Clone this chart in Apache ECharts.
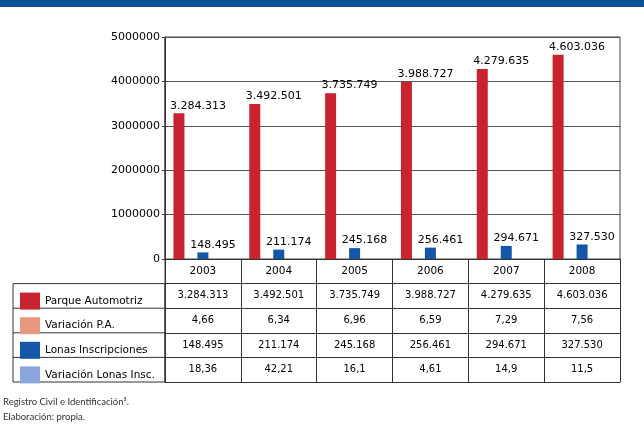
<!DOCTYPE html>
<html><head><meta charset="utf-8">
<script src="https://cdn.jsdelivr.net/npm/echarts@6/dist/echarts.min.js"></script>
<style>html,body{margin:0;padding:0;background:#fff}#c{width:644px;height:435px}</style>
</head><body><div id="c"></div>
<script>
var years = ['2003','2004','2005','2006','2007','2008'];
var parque = [3284313, 3492501, 3735749, 3988727, 4279635, 4603036];
var varPA = [4.66, 6.34, 6.96, 6.59, 7.29, 7.56];
var lonas = [148495, 211174, 245168, 256461, 294671, 327530];
var varLonas = [18.36, 42.21, 16.1, 4.61, 14.9, 11.5];
var seriesNames = ['Parque Automotriz', 'Variación P.A.', 'Lonas Inscripciones', 'Variación Lonas Insc.'];
var yTicks = { min: 0, max: 5000000, interval: 1000000 };
var sourceLines = ['Registro Civil e Identificación⁵.', 'Elaboración: propia.'];

var FONT = 'DejaVu Sans';
function dots(v){ return String(v).replace(/\B(?=(\d{3})+(?!\d))/g, '.'); }
function comma(v){ return String(v).replace('.', ','); }
var rows = [parque.map(dots), varPA.map(comma), lonas.map(dots), varLonas.map(comma)];

var gridTop = 37, zeroY = 259, gridLeft = 165, gridRight = 620, rowH = 24.6, legendX = 13;
var colors = ['#c8232f', '#e9967f', '#1457a8', '#8aa6dc'];

var xAxes = [{
  type: 'category', data: years, position: 'bottom', gridIndex: 0,
  axisLine: { show: true, lineStyle: { color: '#333', width: 1 } },
  axisTick: { show: true, inside: false, length: rowH * 5, lineStyle: { color: '#333' } },
  axisLabel: { show: true, margin: rowH / 2, verticalAlign: 'middle', fontFamily: FONT, fontSize: 10.5, color: '#000' }
}];
for (var k = 1; k <= 5; k++) {
  (function (k) {
    xAxes.push({
      type: 'category', data: years, position: 'bottom', gridIndex: 0, offset: rowH * k,
      axisLine: { show: true, lineStyle: { color: '#333', width: 1 } },
      axisTick: { show: false },
      axisLabel: {
        show: k <= 4, margin: rowH / 2, verticalAlign: 'middle', fontFamily: FONT, fontSize: 10, color: '#000',
        formatter: function (v, i) { return k <= 4 ? rows[k - 1][i] : ''; }
      }
    });
  })(k);
}

var graphics = [
  { type: 'rect', shape: { x: 0, y: 0, width: 644, height: 7 }, style: { fill: '#0b5394' } },
  { type: 'rect', shape: { x: legendX, y: zeroY + rowH, width: gridLeft - legendX, height: rowH * 4 }, style: { fill: 'none', stroke: '#333', lineWidth: 1 } },
  { type: 'line', shape: { x1: gridLeft, y1: gridTop, x2: gridLeft, y2: zeroY + rowH * 5 }, style: { stroke: '#333', lineWidth: 1 } }
];
for (var r = 2; r <= 4; r++) {
  graphics.push({ type: 'line', shape: { x1: legendX, y1: zeroY + rowH * r, x2: gridLeft, y2: zeroY + rowH * r }, style: { stroke: '#333', lineWidth: 1 } });
}
sourceLines.forEach(function (t, i) {
  graphics.push({ type: 'text', left: 3, top: 397 + i * 15, style: { text: t, font: '9.5px Lato', fill: '#333' } });
});

var chart = echarts.init(document.getElementById('c'), null, { renderer: 'canvas' });
chart.setOption({
  animation: false,
  backgroundColor: '#fff',
  grid: { left: gridLeft, right: 644 - gridRight, top: gridTop, bottom: 435 - zeroY, show: true, borderColor: '#444', borderWidth: 1 },
  legend: {
    data: seriesNames, orient: 'vertical', left: 15, top: zeroY + rowH + 4,
    itemWidth: 20, itemHeight: 17, itemGap: rowH - 17, icon: 'rect',
    textStyle: { fontFamily: FONT, fontSize: 10.5, color: '#000' }
  },
  xAxis: xAxes,
  yAxis: {
    type: 'value', min: yTicks.min, max: yTicks.max, interval: yTicks.interval,
    axisLine: { show: true, lineStyle: { color: '#333' } },
    axisTick: { show: true, length: 3, lineStyle: { color: '#333' } },
    axisLabel: { fontFamily: FONT, fontSize: 11, color: '#000', margin: 5, formatter: function (v) { return String(v); } },
    splitLine: { lineStyle: { color: '#555', width: 1 } }
  },
  graphic: graphics,
  series: [
    { name: seriesNames[0], type: 'bar', data: parque, barWidth: 11, barGap: '9%', itemStyle: { color: colors[0] },
      label: { show: true, position: 'top', distance: 2, offset: [19, 0], fontFamily: FONT, fontSize: 11, color: '#000', formatter: function (p) { return dots(p.value); } } },
    { name: seriesNames[1], type: 'bar', data: varPA, barWidth: 11, barGap: '9%', itemStyle: { color: colors[1] } },
    { name: seriesNames[2], type: 'bar', data: lonas, barWidth: 11, barGap: '9%', itemStyle: { color: colors[2] },
      label: { show: true, position: 'top', distance: 2, offset: [10, 0], fontFamily: FONT, fontSize: 11, color: '#000', formatter: function (p) { return dots(p.value); } } },
    { name: seriesNames[3], type: 'bar', data: varLonas, barWidth: 11, barGap: '9%', itemStyle: { color: colors[3] } },
    { name: 'pad', type: 'bar', data: years.map(function () { return null; }), barWidth: 11, barGap: '9%', itemStyle: { color: 'transparent' } }
  ]
});
</script></body></html>
